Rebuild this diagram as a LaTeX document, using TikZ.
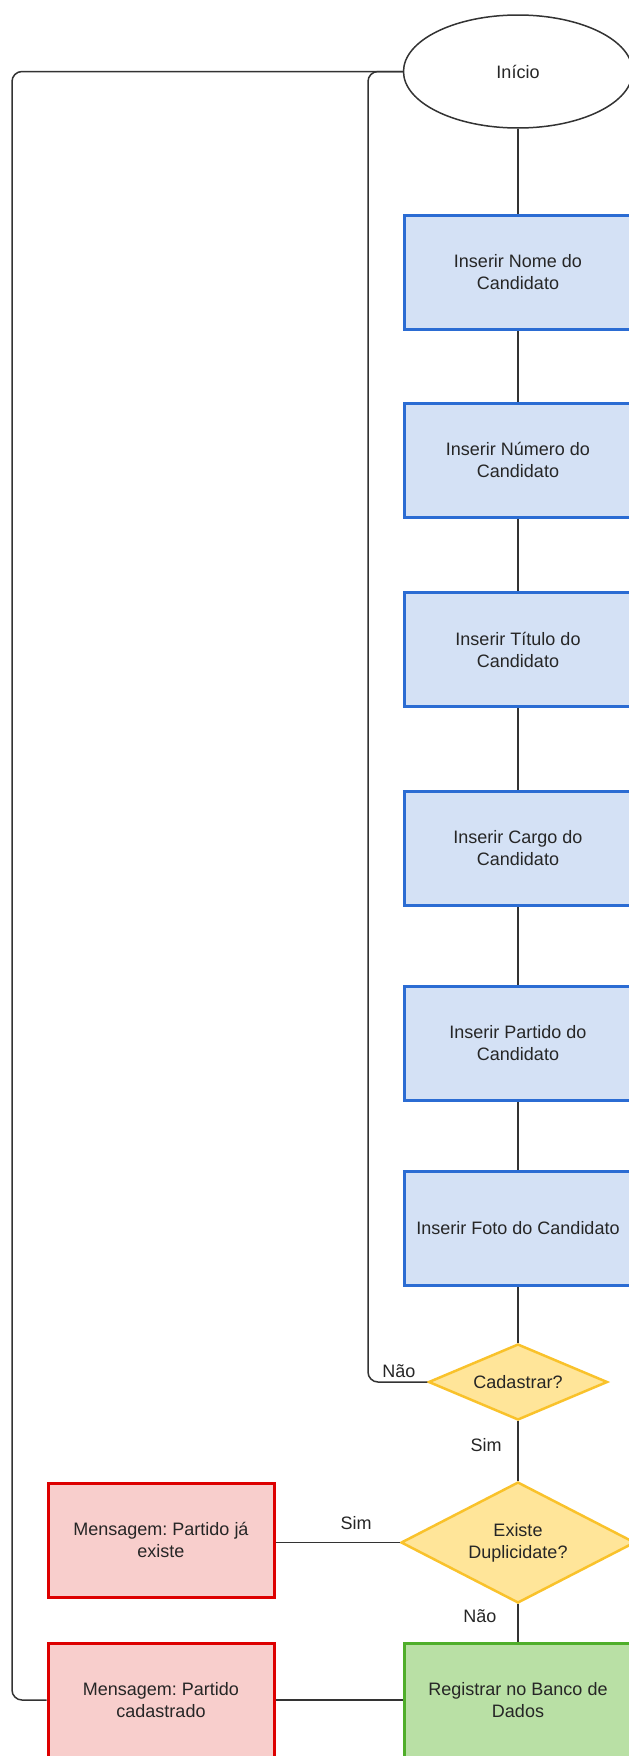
\documentclass[tikz,border=0pt]{standalone}
\usepackage{fontspec}
\setmainfont{Liberation Sans}
\usetikzlibrary{shapes.geometric}
\definecolor{bluefill}{HTML}{D4E1F5}
\definecolor{bluedraw}{HTML}{2B6CD3}
\definecolor{yelfill}{HTML}{FFE599}
\definecolor{yeldraw}{HTML}{F9C22B}
\definecolor{redfill}{HTML}{F8CECC}
\definecolor{reddraw}{HTML}{DD0000}
\definecolor{grnfill}{HTML}{B9E0A5}
\definecolor{grndraw}{HTML}{4FAE2A}
\definecolor{linec}{HTML}{333333}
\definecolor{txtc}{HTML}{262626}
\newcommand{\diagfont}{\fontsize{18}{22}\selectfont\frenchspacing}
\begin{document}
\begin{tikzpicture}[x=1pt,y=-1pt,
  basebox/.style={rectangle, inner sep=0pt, align=center, text=txtc, font=\diagfont, line width=3pt},
  procbox/.style={basebox, draw=bluedraw, fill=bluefill, minimum width=227pt, minimum height=114pt},
  errbox/.style={basebox, draw=reddraw, fill=redfill, minimum width=226pt, minimum height=114pt},
  okbox/.style={basebox, draw=grndraw, fill=grnfill, minimum width=227pt, minimum height=114pt},
  startnode/.style={ellipse, draw=linec, fill=white, line width=1.5pt, inner sep=0pt, minimum width=229pt, minimum height=113pt, text=txtc, font=\diagfont},
  decision/.style={diamond, draw=yeldraw, fill=yelfill, line width=2.5pt, inner sep=0pt, align=center, text=txtc, font=\diagfont},
  conn/.style={draw=linec, line width=1.5pt},
  lbl/.style={text=txtc, font=\diagfont, inner sep=0pt}
]
\useasboundingbox (0,0) rectangle (629,1756);
\clip (0,0) rectangle (629,1756);

\node[startnode] (ini) at (518,71.5) {Início};
\node[procbox] (b1) at (518,272.5) {Inserir Nome do\\Candidato};
\node[procbox] (b2) at (518,460) {Inserir Número do\\Candidato};
\node[procbox] (b3) at (518,649.5) {Inserir Título do\\Candidato};
\node[procbox] (b4) at (518,848.5) {Inserir Cargo do\\Candidato};
\node[procbox] (b5) at (518,1043.5) {Inserir Partido do\\Candidato};
\node[procbox] (b6) at (518,1228.5) {Inserir Foto do Candidato};
\node[decision, aspect=2.36, minimum width=179pt, minimum height=76pt] (cad) at (518,1382) {Cadastrar?};
\node[decision, aspect=1.93, minimum width=234pt, minimum height=121pt] (dup) at (518,1542.5) {Existe\\Duplicidate?};
\node[errbox] (m1) at (161,1540) {Mensagem: Partido já\\existe};
\node[errbox] (m2) at (161,1700) {Mensagem: Partido\\cadastrado};
\node[okbox] (reg) at (518,1700) {Registrar no Banco de\\Dados};

\draw[conn] (ini) -- (b1);
\draw[conn] (b1) -- (b2);
\draw[conn] (b2) -- (b3);
\draw[conn] (b3) -- (b4);
\draw[conn] (b4) -- (b5);
\draw[conn] (b5) -- (b6);
\draw[conn] (b6) -- (cad);
\draw[conn] (cad) -- (dup);
\draw[conn] (dup.west) -- (m1.east |- dup.west);
\draw[conn] (dup) -- (reg);
\draw[conn] (reg) -- (m2);
\draw[conn, rounded corners=10pt] (cad.west) -- (368,1382) -- (368,71.5) -- (ini.west);
\draw[conn, rounded corners=10pt] (m2.west) -- (12,1700) -- (12,71.5) -- (ini.west);

\node[lbl] (lnao1) at (399,1371) {Não};
\node[lbl] (lsim1) at (486,1445) {Sim};
\node[lbl] (lsim2) at (356,1523) {Sim};
\node[lbl] (lnao2) at (480,1616) {Não};
\end{tikzpicture}
\end{document}
